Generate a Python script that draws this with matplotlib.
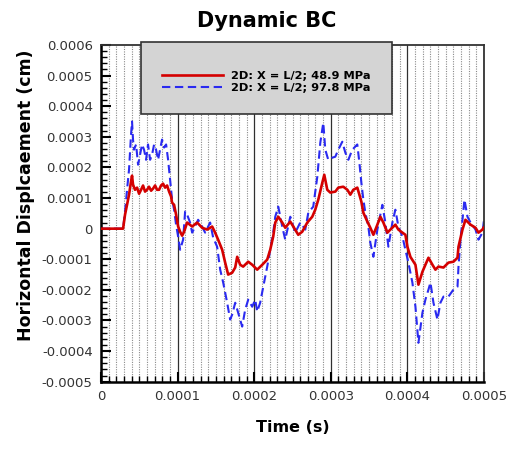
import numpy as np
import matplotlib
matplotlib.use("Agg")
import matplotlib.pyplot as plt
from matplotlib.patches import Rectangle
from matplotlib.ticker import MultipleLocator, FuncFormatter

# ---- data (time in microseconds, displacement in 1e-4 cm) ----
red_t_us = [0, 28.8, 31.4, 34.0, 36.6, 39.2, 40.5, 41.8, 44.4, 47.1, 49.7, 52.3, 54.9, 57.5, 60.1,
            62.7, 65.4, 68.0, 70.6, 73.2, 75.8, 78.4, 81.0, 83.7, 86.3, 88.9, 91.5, 92.8, 95.4, 98.0,
            100.7, 103.3, 105.9, 108.5, 112.4, 119.0, 125.5, 132.0, 138.6, 145.1, 149.0, 152.9, 158.2,
            162.1, 166.0, 171.2, 175.2, 177.8, 181.7, 185.6, 192.2, 197.4, 203.9, 210.5, 217.0, 220.9,
            224.8, 227.5, 231.4, 236.6, 240.5, 247.1, 251.0, 257.5, 262.7, 269.3, 275.8, 279.7, 283.7,
            288.9, 291.5, 295.4, 299.3, 305.9, 309.8, 316.3, 321.6, 325.5, 329.4, 334.6, 337.3, 339.9,
            342.5, 347.7, 351.6, 355.6, 360.8, 364.7, 368.6, 373.9, 377.8, 384.3, 388.2, 393.5, 397.4,
            400.0, 403.9, 410.5, 414.4, 419.6, 423.5, 427.5, 432.7, 436.6, 440.5, 447.1, 453.6, 460.1,
            465.4, 466.7, 471.9, 475.8, 482.4, 488.9, 492.8, 498.0, 499.3]
red_v = [0, 0, 0.46, 0.78, 1.11, 1.54, 1.73, 1.44, 1.27, 1.34, 1.14, 1.27, 1.41, 1.21, 1.27,
         1.37, 1.24, 1.31, 1.41, 1.27, 1.27, 1.41, 1.47, 1.34, 1.41, 1.21, 1.05, 0.85, 0.78, 0.46,
         0.07, -0.10, -0.23, -0.10, 0.20, 0.07, 0.20, 0.03, -0.03, 0.07, -0.13, -0.36, -0.69,
         -1.11, -1.50, -1.44, -1.27, -0.92, -1.18, -1.24, -1.08, -1.18, -1.34, -1.18, -1.01, -0.69,
         -0.26, 0.20, 0.39, 0.20, 0.03, 0.23, 0.07, -0.20, -0.10, 0.20, 0.39, 0.62, 0.95,
         1.50, 1.76, 1.27, 1.18, 1.21, 1.34, 1.37, 1.27, 1.11, 1.27, 1.34, 1.11, 0.88,
         0.52, 0.23, 0.03, -0.20, 0.13, 0.39, 0.20, -0.13, -0.03, 0.13, -0.03, -0.13, -0.20,
         -0.59, -0.92, -1.18, -1.83, -1.41, -1.18, -0.95, -1.18, -1.34, -1.24, -1.27, -1.11, -1.08,
         -0.95, -0.59, -0.03, 0.29, 0.13, 0.03, -0.13, -0.03, 0.03]

blue_t_us = [0, 28.8, 31.4, 34.0, 36.6, 39.2, 40.5, 41.8, 43.1, 45.8, 48.4, 51.0, 53.6, 56.2, 58.8,
             61.4, 64.1, 66.7, 69.3, 71.9, 74.5, 77.1, 79.7, 82.4, 85.0, 87.6, 90.2, 92.8, 95.4, 98.0,
             100.7, 103.3, 107.2, 109.8, 112.4, 116.3, 119.0, 122.9, 126.8, 132.0, 135.9, 142.5, 146.4,
             151.6, 155.6, 159.5, 164.7, 168.6, 171.2, 175.2, 179.1, 184.3, 188.2, 192.2, 197.4, 201.3,
             203.9, 207.8, 211.8, 217.0, 220.9, 224.8, 227.5, 231.4, 236.6, 240.5, 247.1, 253.6, 260.1,
             266.7, 270.6, 277.1, 282.4, 286.3, 290.2, 292.8, 296.7, 302.0, 305.9, 309.8, 315.0, 319.0,
             322.9, 328.1, 334.6, 337.3, 339.9, 342.5, 345.1, 349.0, 351.6, 355.6, 360.8, 367.3, 371.2,
             375.2, 380.4, 384.3, 388.2, 393.5, 397.4, 401.3, 406.5, 410.5, 414.4, 419.6, 423.5, 427.5,
             430.1, 434.0, 439.2, 443.1, 447.1, 453.6, 460.1, 465.4, 466.7, 469.3, 471.9, 474.5, 478.4,
             482.4, 488.9, 492.8, 498.0, 500.0]
blue_v = [0, 0, 0.56, 1.27, 1.93, 3.07, 3.50, 2.91, 2.58, 2.75, 2.09, 2.42, 2.75, 2.58, 2.25,
          2.75, 2.25, 2.42, 2.75, 2.58, 2.25, 2.58, 2.91, 2.65, 2.75, 2.25, 1.60, 0.95, 0.62, 0.13,
          -0.26, -0.69, -0.36, 0.56, 0.46, 0.20, -0.13, 0.07, 0.29, 0.07, -0.13, 0.20, -0.29,
          -0.59, -1.34, -1.76, -2.42, -2.97, -2.81, -2.42, -2.75, -3.20, -2.65, -2.32, -2.55, -2.32,
          -2.71, -2.42, -1.90, -1.24, -0.69, -0.13, 0.39, 0.72, 0.07, -0.36, 0.39, -0.13, 0.20,
          -0.03, 0.52, 0.72, 1.70, 2.81, 3.46, 2.58, 2.25, 2.32, 2.35, 2.58, 2.84, 2.48,
          2.25, 2.58, 2.75, 2.16, 1.50, 0.95, 0.52, 0.07, -0.46, -0.92, -0.03, 0.78, 0.20,
          -0.59, 0.20, 0.62, 0.07, -0.26, -0.69, -1.11, -1.76, -2.55, -3.73, -2.75, -2.32, -1.99,
          -1.76, -2.42, -2.97, -2.42, -2.22, -2.22, -1.99, -1.90, -1.24, -0.36, 0.29, 0.95, 0.39,
          0.20, -0.03, -0.36, -0.13, 0.29]

labels = ["2D: X = L/2; 48.9 MPa", "2D: X = L/2; 97.8 MPa"]
title = "Dynamic BC"
xlabel = "Time (s)"
ylabel = "Horizontal Displcaement (cm)"
x_range = (0, 0.0005)
y_range = (-0.0005, 0.0006)

# ---- figure ----
fig = plt.figure(figsize=(5.19, 4.49), dpi=100)
ax = fig.add_axes([101/519, 1-381.7/449, 383/519, (381.7-45)/449])

t_red = np.array(red_t_us) * 1e-6
t_blue = np.array(blue_t_us) * 1e-6
ax.plot(t_red, np.array(red_v) * 1e-4, color="#d40000", lw=1.9, zorder=3, label=labels[0])
ax.plot(t_blue, np.array(blue_v) * 1e-4, color="#2a2af0", lw=1.5, dashes=(4, 2.2), zorder=2,
        label=labels[1])

ax.set_xlim(*x_range)
ax.set_ylim(*y_range)
ax.xaxis.set_major_locator(MultipleLocator(0.0001))
ax.xaxis.set_minor_locator(MultipleLocator(0.00001))
ax.yaxis.set_major_locator(MultipleLocator(0.0001))
ax.yaxis.set_minor_locator(MultipleLocator(0.00002))

def fmt(v, pos):
    if abs(v) < 1e-12:
        return "0"
    return "%.4f" % v

ax.xaxis.set_major_formatter(FuncFormatter(fmt))
ax.yaxis.set_major_formatter(FuncFormatter(fmt))

ax.grid(True, axis="x", which="major", color="#303030", lw=0.9, ls="-")
ax.grid(True, axis="x", which="minor", color="#8a8a8a", lw=0.8, ls=(0, (1, 1.2)))
ax.set_axisbelow(True)

ax.tick_params(which="both", direction="in", top=False, right=False, colors="black",
               labelcolor="#333333", labelsize=9.5)
ax.tick_params(which="major", length=7, width=1.5)
ax.tick_params(which="minor", length=4, width=1.0)
ax.tick_params(axis="x", pad=6)
ax.tick_params(axis="y", pad=6)
for lab in ax.get_xticklabels() + ax.get_yticklabels():
    lab.set_family("DejaVu Sans")
for side in ["left", "bottom"]:
    ax.spines[side].set_linewidth(1.8)
for side in ["top", "right"]:
    ax.spines[side].set_linewidth(1.3)
    ax.spines[side].set_color("#333333")

# titles / labels
fig.text(267/519, 1-21/449, title, ha="center", va="center", fontsize=15, weight="bold")
fig.text(293/519, 1-427/449, xlabel, ha="center", va="center", fontsize=11.5, weight="bold")
fig.text(26/519, 1-195/449, ylabel, ha="center", va="center", rotation=90, fontsize=12.5,
         weight="bold")

# legend box
rect = Rectangle((141/519, 1-114/449), (392-141)/519, (114-42)/449, transform=fig.transFigure,
                 facecolor="#d4d4d4", edgecolor="#333333", lw=1.2, zorder=4)
fig.patches.append(rect)
handles, labs = ax.get_legend_handles_labels()
leg = fig.legend(handles, labs, loc="center", bbox_to_anchor=(266/519, 1-82/449),
                 bbox_transform=fig.transFigure, frameon=False, handlelength=5.35,
                 handletextpad=0.7, labelspacing=0.24, borderpad=0,
                 prop={"family": "DejaVu Sans", "weight": "bold", "size": 8.2})
leg.set_zorder(6)

fig.savefig("out.png", dpi=100)
